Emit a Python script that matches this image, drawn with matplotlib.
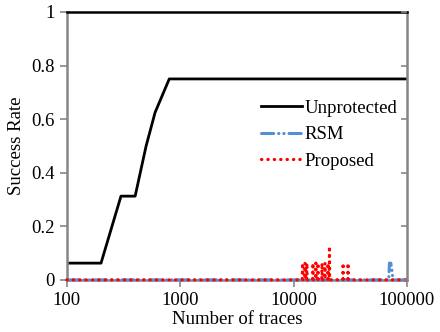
import matplotlib
matplotlib.use('Agg')
import matplotlib.pyplot as plt
from matplotlib.ticker import FixedLocator, NullLocator

plt.rcParams['font.family'] = ['Liberation Serif', 'DejaVu Serif']

# Unprotected
unprot_x = [100, 200, 300, 400, 500, 600, 800, 100000]
unprot_y = [0.0625, 0.0625, 0.3125, 0.3125, 0.5, 0.625, 0.75, 0.75]

# RSM
rsm_x = [100, 69000, 70000, 72000, 74000, 75000, 100000]
rsm_y = [0, 0, 0.0625, 0.0625, 0.03125, 0, 0]

# Proposed
prop_x = [100,
          11900, 12000, 12100, 12500, 12600, 12700, 13000, 13100, 13200,
          14700, 14800, 14900, 15600, 15700, 15800, 16300, 16400, 16500,
          17700, 17800, 17900, 18800, 18900, 19000, 20000, 20100, 20200,
          20600, 20700, 20800, 27200, 27300, 27400, 30100, 30200, 30300,
          100000]
prop_y = [0,
          0, 0.0625, 0, 0, 0.0625, 0, 0, 0.0625, 0,
          0, 0.0625, 0, 0, 0.0625, 0, 0, 0.0625, 0,
          0, 0.0625, 0, 0, 0.0625, 0, 0, 0.0625, 0,
          0, 0.125, 0, 0, 0.0625, 0, 0, 0.0625, 0,
          0]

x_ticks = [100, 1000, 10000, 100000]
y_ticks = [0, 0.2, 0.4, 0.6, 0.8, 1]

fig = plt.figure(figsize=(4.4, 3.32), dpi=100)
ax = fig.add_axes([0.152, 0.157, 0.773, 0.807])

ax.plot(unprot_x, unprot_y, color='black', lw=2.0, label='Unprotected')
ax.plot(rsm_x, rsm_y, color='#558ED5', lw=2.2, linestyle=(0, (4, 1.6, 0.1, 1.6, 0.1, 1.6)),
        dash_capstyle='round', label='RSM', clip_on=False, zorder=4)
ax.plot(prop_x, prop_y, color='#FF0000', lw=2.3, linestyle=(0, (0.1, 1.9)),
        dash_capstyle='round', label='Proposed', clip_on=False, zorder=5)

ax.set_xscale('log')
ax.set_xlim(100, 100000)
ax.set_ylim(0, 1)
ax.xaxis.set_major_locator(FixedLocator(x_ticks))
ax.xaxis.set_minor_locator(NullLocator())
ax.set_xticklabels([str(t) for t in x_ticks])
ax.set_yticks(y_ticks)
ax.set_yticklabels(['0', '0.2', '0.4', '0.6', '0.8', '1'])

for s in ['left', 'bottom', 'right']:
    ax.spines[s].set_color('#868686')
    ax.spines[s].set_linewidth(1.8)
ax.spines['top'].set_color('black')
ax.spines['top'].set_linewidth(1.8)
ax.tick_params(axis='both', direction='out', length=5, width=1.2, color='#868686',
               labelsize=13.5, pad=4)

ax2 = ax.twinx()
ax2.set_ylim(0, 1)
ax2.set_yticks(y_ticks)
ax2.set_yticklabels([])
ax2.tick_params(axis='y', direction='in', length=4, width=1.2, color='#868686')
for s in ax2.spines.values():
    s.set_visible(False)

ax.set_xlabel('Number of traces', fontsize=13.5, labelpad=1)
ax.set_ylabel('Success Rate', fontsize=13.5, labelpad=4)

ax.legend(loc='upper left', bbox_to_anchor=(0.52, 0.735), frameon=False, fontsize=13.5,
          handlelength=2.2, handletextpad=0.15, labelspacing=0.5)

fig.savefig('out.png', dpi=100)
